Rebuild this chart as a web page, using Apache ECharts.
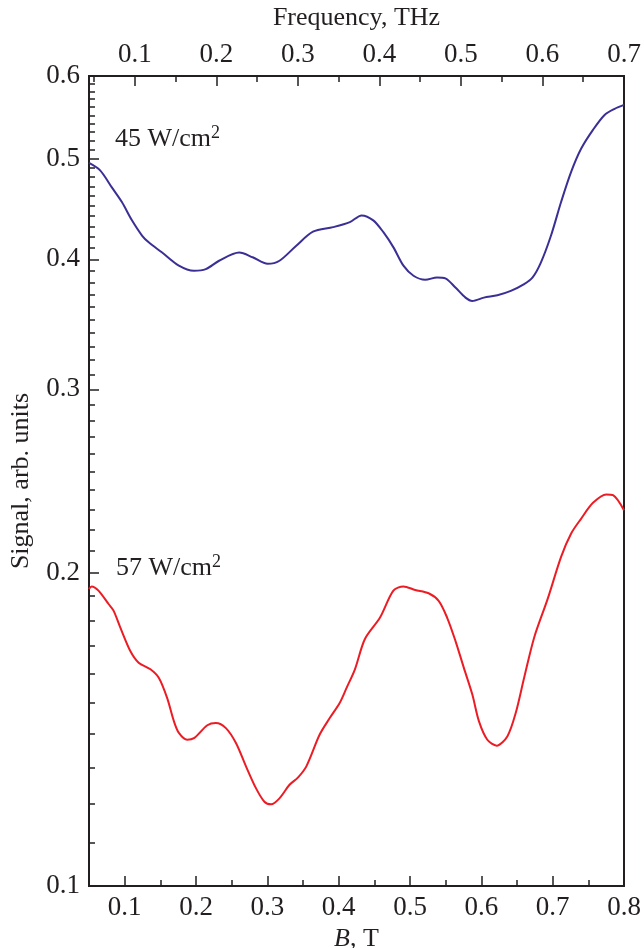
<!DOCTYPE html>
<html>
<head>
<meta charset="utf-8">
<script src="https://cdn.jsdelivr.net/npm/echarts@6/dist/echarts.min.js"></script>
<style>
  html, body { margin: 0; padding: 0; background: #fff; }
  #chart { width: 644px; height: 948px; }
</style>
</head>
<body>
<div id="chart"></div>
<script>
// 45 W/cm2 curve: [B (T), signal]
const b45 = [0.05, 0.0656, 0.082, 0.0961, 0.1102, 0.1243, 0.1337, 0.1525, 0.176, 0.1972, 0.2137, 0.2324, 0.2606, 0.2794, 0.3005, 0.317, 0.3406, 0.364, 0.3922, 0.4157, 0.4322, 0.4485, 0.4627, 0.4768, 0.4908, 0.5049, 0.5214, 0.5379, 0.5496, 0.5637, 0.5778, 0.5873, 0.6036, 0.6225, 0.6413, 0.66, 0.6719, 0.6836, 0.6977, 0.7118, 0.7259, 0.74, 0.7565, 0.7728, 0.7869, 0.8]
const s45 = [0.495, 0.487, 0.469, 0.454, 0.436, 0.4216, 0.4153, 0.406, 0.3944, 0.39, 0.3914, 0.3987, 0.406, 0.4018, 0.396, 0.3987, 0.4122, 0.4252, 0.4295, 0.4343, 0.4408, 0.436, 0.4247, 0.4107, 0.3944, 0.3857, 0.3823, 0.3843, 0.3835, 0.3758, 0.3675, 0.3648, 0.3675, 0.3694, 0.373, 0.3786, 0.3843, 0.3973, 0.4216, 0.454, 0.4853, 0.511, 0.5326, 0.5505, 0.558, 0.5628]

// 57 W/cm2 curve
const b57 = [0.05, 0.0538, 0.0633, 0.0774, 0.0844, 0.0938, 0.1079, 0.1196, 0.1361, 0.1478, 0.1595, 0.169, 0.176, 0.1877, 0.1972, 0.2159, 0.2278, 0.2419, 0.256, 0.2701, 0.2842, 0.2959, 0.3053, 0.317, 0.3311, 0.3428, 0.3547, 0.3734, 0.3875, 0.4016, 0.4111, 0.4228, 0.4368, 0.458, 0.4767, 0.4908, 0.5073, 0.5261, 0.5402, 0.552, 0.5637, 0.5754, 0.5873, 0.5966, 0.6084, 0.6215, 0.6366, 0.6483, 0.66, 0.6741, 0.693, 0.7118, 0.7259, 0.74, 0.7565, 0.7752, 0.7846, 0.8]
const s57 = [0.1929, 0.194, 0.1922, 0.1866, 0.1839, 0.1772, 0.1682, 0.1639, 0.1615, 0.1585, 0.1516, 0.144, 0.1403, 0.1382, 0.1387, 0.1427, 0.1434, 0.1418, 0.1372, 0.1303, 0.1241, 0.1205, 0.1198, 0.1214, 0.1251, 0.1271, 0.1303, 0.1398, 0.145, 0.15, 0.155, 0.1615, 0.1727, 0.1811, 0.1922, 0.194, 0.1925, 0.1911, 0.1879, 0.1811, 0.172, 0.1621, 0.1528, 0.144, 0.1382, 0.1364, 0.1393, 0.1467, 0.1585, 0.1733, 0.1887, 0.2071, 0.2181, 0.2254, 0.2334, 0.2378, 0.2374, 0.2296]

// tick labels
const bTicks = [0.1, 0.2, 0.3, 0.4, 0.5, 0.6, 0.7, 0.8]
const bMinor = [0.15, 0.25, 0.35, 0.45, 0.55, 0.65, 0.75]
const fTicks = [0.1, 0.2, 0.3, 0.4, 0.5, 0.6, 0.7]
const fMinor = [0.05, 0.15, 0.25, 0.35, 0.45, 0.55, 0.65]
const yTicks = [0.1, 0.2, 0.3, 0.4, 0.5, 0.6]
const yMinor = []
for (let i = 11; i < 60; i++) {
  if (i % 10 !== 0) yMinor.push(i / 100)
}

const ink = '#231f20'
const font = 'Liberation Serif'

const chart = echarts.init(document.getElementById('chart'))

function xAxisCfg(pos, min, max, ticks, len, labels) {
  return {
    type: 'value',
    position: pos,
    min: min,
    max: max,
    axisLine: { show: true, onZero: false, lineStyle: { color: ink, width: 2 } },
    axisTick: { show: true, inside: true, length: len, customValues: ticks, lineStyle: { color: ink, width: 1.5 } },
    axisLabel: labels ? {
      show: true, customValues: ticks, margin: 8, color: ink, fontFamily: font, fontSize: 27,
      formatter: v => v.toFixed(1)
    } : { show: false },
    splitLine: { show: false }
  }
}

function yAxisCfg(pos, ticks, len, labels) {
  return {
    type: 'log',
    logBase: 10,
    position: pos,
    min: 0.1,
    max: 0.6,
    axisLine: { show: true, onZero: false, lineStyle: { color: ink, width: 2 } },
    axisTick: { show: ticks.length > 0, inside: true, length: len, customValues: ticks, lineStyle: { color: ink, width: 1.5 } },
    axisLabel: labels ? {
      show: true, customValues: ticks, margin: 9, color: ink, fontFamily: font, fontSize: 27,
      formatter: v => (+v).toFixed(1)
    } : { show: false },
    splitLine: { show: false }
  }
}

const xMain = xAxisCfg('bottom', 0.05, 0.8, bTicks, 10, true)
xMain.name = '{i|B}, T'
xMain.nameLocation = 'middle'
xMain.nameGap = 36
xMain.nameTextStyle = { color: ink, fontFamily: font, fontSize: 26, rich: { i: { fontStyle: 'italic', fontFamily: font, fontSize: 26, color: ink } } }

const xTop = xAxisCfg('top', 0.04375, 0.7, fTicks, 10, true)
xTop.name = 'Frequency, THz'
xTop.nameLocation = 'middle'
xTop.nameGap = 45
xTop.nameTextStyle = { color: ink, fontFamily: font, fontSize: 26 }

const yMain = yAxisCfg('left', yTicks, 10, true)
yMain.name = 'Signal, arb. units'
yMain.nameLocation = 'middle'
yMain.nameGap = 55
yMain.nameTextStyle = { color: ink, fontFamily: font, fontSize: 26 }

const yRight = yAxisCfg('right', [], 0, false)

chart.setOption({
  backgroundColor: '#fff',
  animation: false,
  grid: { left: 89, right: 20, top: 76, bottom: 62, containLabel: false, outerBoundsMode: 'none' },
  xAxis: [
    xMain,
    xAxisCfg('bottom', 0.05, 0.8, bMinor, 6, false),
    xTop,
    xAxisCfg('top', 0.04375, 0.7, fMinor, 6, false)
  ],
  yAxis: [
    yMain,
    yAxisCfg('left', yMinor, 6, false),
    yRight
  ],
  graphic: [
    {
      type: 'text', left: 115, top: 124,
      style: {
        text: '{a|45 W/cm}{s|2}',
        rich: {
          a: { fontFamily: font, fontSize: 26, lineHeight: 30, fill: ink },
          s: { fontFamily: font, fontSize: 18, lineHeight: 18, verticalAlign: 'top', fill: ink }
        }
      }
    },
    {
      type: 'text', left: 116, top: 553,
      style: {
        text: '{a|57 W/cm}{s|2}',
        rich: {
          a: { fontFamily: font, fontSize: 26, lineHeight: 30, fill: ink },
          s: { fontFamily: font, fontSize: 18, lineHeight: 18, verticalAlign: 'top', fill: ink }
        }
      }
    }
  ],
  series: [
    {
      name: '45 W/cm2',
      type: 'line',
      xAxisIndex: 0,
      yAxisIndex: 0,
      showSymbol: false,
      smooth: 0.3,
      lineStyle: { color: '#3a2f95', width: 2 },
      data: b45.map((b, i) => [b, s45[i]])
    },
    {
      name: '57 W/cm2',
      type: 'line',
      xAxisIndex: 0,
      yAxisIndex: 0,
      showSymbol: false,
      smooth: 0.3,
      lineStyle: { color: '#ec1c24', width: 2 },
      data: b57.map((b, i) => [b, s57[i]])
    }
  ]
})
</script>
</body>
</html>
